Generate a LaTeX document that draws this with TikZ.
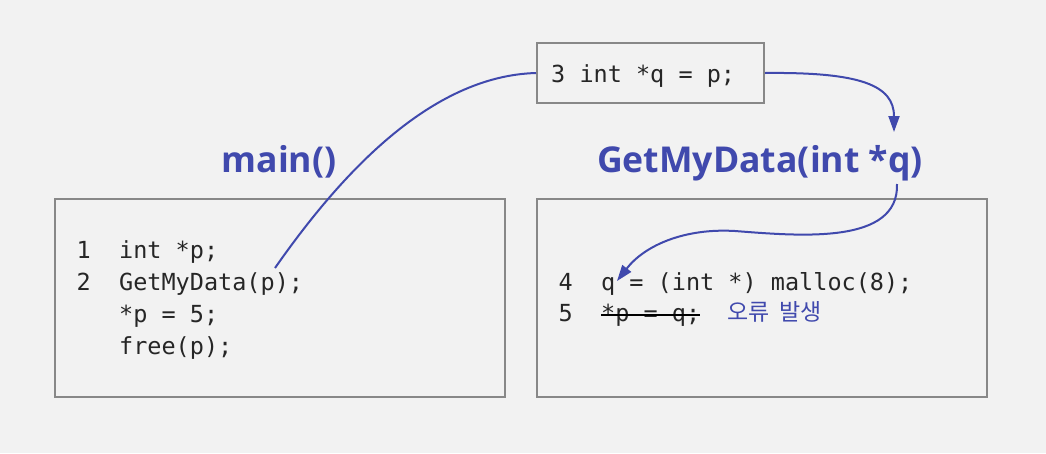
\documentclass[tikz,border=0pt]{standalone}
\usepackage{fontspec}
\usetikzlibrary{arrows.meta}
\newfontfamily\codefont{DejaVu Sans Mono}
\newfontfamily\titlefont{Open Sans}
\newfontfamily\krfont{Noto Sans CJK KR}
\definecolor{bg}{HTML}{F2F2F2}
\definecolor{boxgray}{HTML}{888888}
\definecolor{accent}{HTML}{4049AD}
\definecolor{codeink}{HTML}{262626}
\tikzset{
  codebox/.style={draw=boxgray, line width=2pt},
  code/.style={anchor=base west, inner sep=0pt, font=\codefont\fontsize{23.5}{28}\selectfont, text=codeink},
  title/.style={anchor=base, inner sep=0pt, font=\titlefont\bfseries\fontsize{35.6}{40}\selectfont, text=accent},
  link/.style={draw=accent, line width=2pt},
  tip/.style={-{Triangle[length=16pt,width=11pt]}}
}
\begin{document}
\begin{tikzpicture}[x=1pt,y=-1pt]
\fill[bg] (0,0) rectangle (1046,453);
\useasboundingbox (0,0) rectangle (1046,453);
% boxes
\node[codebox, minimum width=450pt, minimum height=198pt, inner sep=0pt] (mainbox) at (280,298) {};
\node[codebox, minimum width=450pt, minimum height=198pt, inner sep=0pt] (funcbox) at (762,298) {};
\node[codebox, minimum width=227pt, minimum height=60pt, inner sep=0pt] (topbox) at (650.5,73) {};
% titles
\node[title] (maint) at (279,172) {main()};
\node[title] (funct) at (760,172) {GetMyData(int *q)};
% top box text
\node[code] (l3) at (551,82) {3 int *q = p;};
% main code
\node[code] (l1) at (76.5,258) {1\ \ int *p;};
\node[code] (l2) at (76.5,290) {2\ \ GetMyData(p);};
\node[code] (l2b) at (76.5,322) {\ \ \ *p = 5;};
\node[code] (l2c) at (76.5,354) {\ \ \ free(p);};
% func code
\node[code] (l4) at (558.5,290) {4\ \ q = (int *) malloc(8);};
\node[code] (l5n) at (558.5,321) {5};
\node[code] (l5) at (601,321) {*p = q;};
\draw[line width=1.5pt, black] ([yshift=6pt]l5.base west) -- ([yshift=6pt]l5.base east);
\node[anchor=base west, inner sep=0pt, font=\krfont\fontsize{23}{27}\selectfont, text=accent] (err) at (727,320) {오류\hspace{10pt}발생};
% connector anchors
\coordinate (pcall) at (275,268);
\coordinate (qin) at (894,132);
\coordinate (qstart) at (897,184);
\coordinate (qtarget) at (617,281);
% connectors
\draw[link] (pcall) .. controls (340,175) and (430,76) .. (topbox.west);
\draw[link, tip] (topbox.east) .. controls (860,72) and (894,85) .. (qin);
\draw[link, tip] (qstart) .. controls (899,245) and (800,236) .. (735,231) .. controls (685,228) and (645,245) .. (qtarget);
\end{tikzpicture}
\end{document}
